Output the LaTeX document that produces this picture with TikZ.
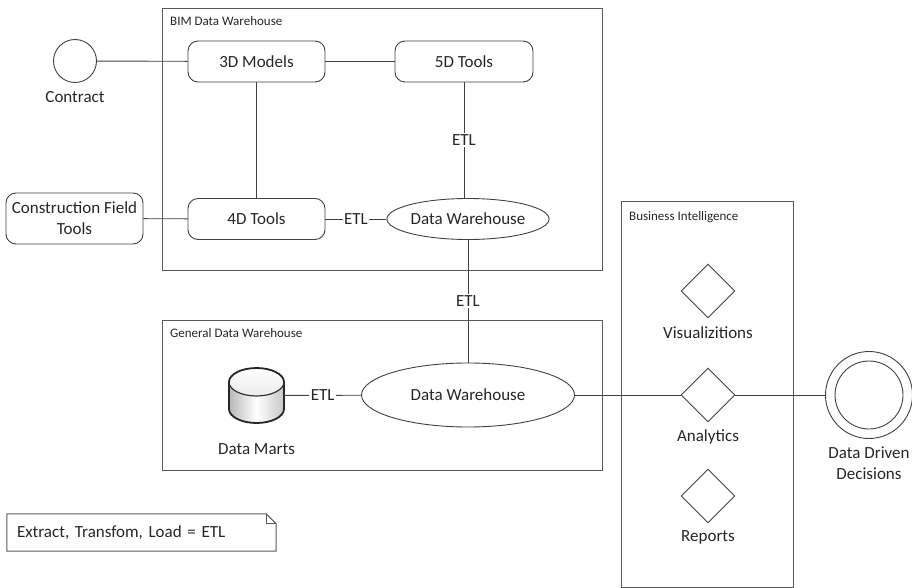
\documentclass[tikz,border=0pt]{standalone}
\usepackage{fontspec}
\setmainfont{Carlito}
\usetikzlibrary{shapes.geometric,calc}
\definecolor{ink}{HTML}{262626}
\definecolor{wire}{HTML}{404040}
\definecolor{rim}{HTML}{595959}
\begin{document}
\begin{tikzpicture}[x=1pt,y=-1pt,
  every node/.style={text=ink, font=\fontsize{17}{21}\selectfont},
  frame/.style={draw=rim, line width=1pt, inner sep=0pt},
  frametitle/.style={anchor=west, inner sep=0pt, font=\fontsize{13}{15}\selectfont},
  rbox/.style={draw=wire, line width=0.9pt, rounded corners=10pt, minimum height=41pt, inner sep=0pt, align=center},
  oval/.style={draw=wire, line width=0.9pt, ellipse, inner sep=0pt},
  choice/.style={draw=wire, line width=0.9pt, diamond, minimum width=54pt, minimum height=54pt, inner sep=0pt},
  caption/.style={inner sep=0pt, align=center},
  link/.style={draw=wire, line width=0.9pt},
  etl/.style={fill=white, inner sep=1.5pt}
]
\useasboundingbox (0,0) rectangle (912,588);

% containers
\node[frame, minimum width=440pt, minimum height=261pt] (bimbox) at (382,139.5) {};
\node[frametitle] (bimtitle) at (170,21) {BIM Data Warehouse};
\node[frame, minimum width=440pt, minimum height=150pt] (genbox) at (382,395) {};
\node[frametitle] (gentitle) at (170,333) {General Data Warehouse};
\node[frame, minimum width=172pt, minimum height=386pt] (bibox) at (707,394) {};
\node[frametitle] (bititle) at (629,217) {Business Intelligence};

% BIM data warehouse contents
\node[draw=wire, line width=0.9pt, circle, minimum size=43pt, inner sep=0pt] (contract) at (75,61) {};
\node[caption] (contractlbl) at (75,97) {Contract};
\node[rbox, minimum width=137pt] (m3d) at (256.5,61.5) {3D Models};
\node[rbox, minimum width=138pt] (t5d) at (464,61.5) {5D Tools};
\node[rbox, minimum width=137pt] (t4d) at (256.5,219) {4D Tools};
\node[rbox, minimum width=137pt, minimum height=51pt] (cft) at (74.5,218.5) {Construction Field\\Tools};
\node[oval, minimum width=130pt, minimum height=41pt] (dwbim) at (468,219) {Data Warehouse};

% general data warehouse contents
\node[oval, minimum width=213pt, minimum height=64pt] (dwgen) at (468,395) {Data Warehouse};
\node[inner sep=0pt, minimum width=55pt, minimum height=55pt] (marts) at (256.5,395.5) {};
\path[shading=axis, left color=black!28, right color=black!22, middle color=white, shading angle=90]
  (229,382) -- (229,409) arc[start angle=180, end angle=360, x radius=27.5pt, y radius=14pt]
  -- (284,382) arc[start angle=0, end angle=180, x radius=27.5pt, y radius=14pt] -- cycle;
\shade[top color=white, bottom color=black!8] (256.5,382) ellipse[x radius=27.5pt, y radius=14pt];
\draw[black!85, line width=1.8pt, line join=round]
  (229,382) -- (229,409) arc[start angle=180, end angle=360, x radius=27.5pt, y radius=14pt]
  -- (284,382) arc[start angle=0, end angle=180, x radius=27.5pt, y radius=14pt] -- cycle;
\draw[black!80, line width=1.2pt] (229,382) arc[start angle=180, end angle=360, x radius=27.5pt, y radius=14pt];
\node[caption] (martslbl) at (256.5,449) {Data Marts};

% business intelligence contents
\node[choice] (viz) at (708,291) {};
\node[caption] (vizlbl) at (708,333) {Visualizitions};
\node[choice] (ana) at (708,395) {};
\node[caption] (analbl) at (708,437) {Analytics};
\node[choice] (rep) at (708,496) {};
\node[caption] (replbl) at (708,537) {Reports};

% outcome
\node[draw=wire, line width=0.9pt, circle, minimum size=87pt, inner sep=0pt] (ddd) at (869,395) {};
\node[draw=wire, line width=0.9pt, circle, minimum size=68pt, inner sep=0pt] (dddin) at (869,395) {};
\node[caption, text depth=0pt] (dddlbl) at (869,463) {Data Driven\\Decisions};

% legend note
\node[inner sep=10pt, text width=249pt, align=left, minimum height=37pt] (note) at (141.5,532.5)
  {\fontdimen2\font=0.23em Extract, Transfom, Load = ETL};
\draw[rim, line width=1pt] (note.north west) -- ($(note.north east)+(-10,0)$) -- ($(note.north east)+(0,10)$)
  -- (note.south east) -- (note.south west) -- cycle;
\draw[rim, line width=0.8pt] ($(note.north east)+(-10,0)$) -- ($(note.north east)+(-10,10)$) -- ($(note.north east)+(0,10)$);

% connectors
\draw[link] (contract) -- (m3d);
\draw[link] (cft) -- (t4d);
\draw[link] (m3d) -- (t4d);
\draw[link] (m3d) -- (t5d);
\draw[link] (t5d.south) -- node[etl] {ETL} (t5d.south |- dwbim.north);
\draw[link] (t4d) -- node[etl] {ETL} (dwbim);
\draw[link] (dwbim) -- node[etl] {ETL} (dwgen);
\draw[link] (marts) -- node[etl] {ETL} (dwgen);
\draw[link] (dwgen) -- (ana);
\draw[link] (ana) -- (ddd);
\end{tikzpicture}
\end{document}
